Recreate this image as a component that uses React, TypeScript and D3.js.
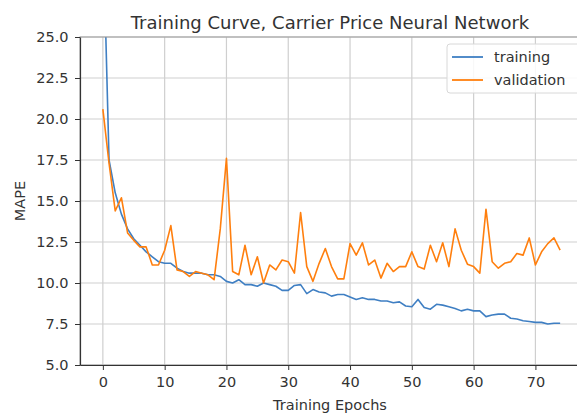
import * as d3 from 'd3';
import { useEffect, useRef } from 'react';

const epochs = d3.range(0, 75);

const trainingMape = [
  32.0, 17.5, 15.5, 14.2, 13.3, 12.7, 12.3, 11.9, 11.6, 11.3,
  11.2, 11.2, 10.9, 10.7, 10.6, 10.6, 10.6, 10.5, 10.5, 10.4,
  10.1, 10.0, 10.2, 9.9, 9.9, 9.8, 10.0, 9.9, 9.8, 9.55,
  9.55, 9.85, 9.9, 9.35, 9.6, 9.45, 9.4, 9.2, 9.3, 9.3,
  9.15, 9.0, 9.1, 9.0, 9.0, 8.9, 8.9, 8.8, 8.85, 8.6,
  8.55, 9.0, 8.5, 8.4, 8.7, 8.65, 8.55, 8.45, 8.3, 8.4,
  8.3, 8.3, 7.95, 8.05, 8.1, 8.1, 7.85, 7.8, 7.7, 7.65,
  7.6, 7.6, 7.5, 7.55, 7.55,
];

const validationMape = [
  20.6, 17.3, 14.4, 15.2, 13.05, 12.6, 12.2, 12.2, 11.1, 11.1,
  12.0, 13.5, 10.8, 10.7, 10.4, 10.7, 10.6, 10.5, 10.2, 13.3,
  17.6, 10.7, 10.5, 12.3, 10.5, 11.6, 10.0, 11.1, 10.8, 11.4,
  11.3, 10.6, 14.3, 11.0, 10.1, 11.2, 12.1, 11.0, 10.25, 10.25,
  12.4, 11.7, 12.45, 11.1, 11.4, 10.3, 11.2, 10.7, 11.0, 11.0,
  11.9, 11.0, 10.85, 12.3, 11.3, 12.45, 11.0, 13.3, 12.0, 11.15,
  11.0, 10.6, 14.5, 11.3, 10.9, 11.2, 11.3, 11.8, 11.7, 12.75,
  11.1, 11.9, 12.4, 12.75, 12.0,
];

const xTicks = [0, 10, 20, 30, 40, 50, 60, 70];
const yTicks = [5, 7.5, 10, 12.5, 15, 17.5, 20, 22.5, 25];

const seriesNames = ['training', 'validation'];
const seriesColors = ['#3f7fc3', '#ff7f0e'];

const width = 577;
const height = 414;
const margin = { top: 37, right: -6, bottom: 49, left: 80 };
const font = '"DejaVu Sans", sans-serif';
const textColor = '#333';

const App = () => {
  const svgRef = useRef<SVGSVGElement | null>(null);

  useEffect(() => {
    if (!svgRef.current) return;
    const svg = d3.select(svgRef.current);
    svg.selectAll('*').remove();

    const innerWidth = width - margin.left - margin.right;
    const innerHeight = height - margin.top - margin.bottom;

    const x = d3.scaleLinear().domain([-3.7, 77.7]).range([0, innerWidth]);
    const y = d3.scaleLinear().domain([5, 25]).range([innerHeight, 0]);

    svg
      .append('defs')
      .append('clipPath')
      .attr('id', 'plot-clip')
      .append('rect')
      .attr('width', innerWidth)
      .attr('height', innerHeight);

    const chart = svg
      .append('g')
      .attr('transform', `translate(${margin.left}, ${margin.top})`);

    // grid
    chart
      .append('g')
      .selectAll('line')
      .data(xTicks)
      .join('line')
      .attr('x1', (d) => x(d))
      .attr('x2', (d) => x(d))
      .attr('y1', 0)
      .attr('y2', innerHeight)
      .attr('stroke', '#cfcfcf')
      .attr('stroke-width', 1.2);

    chart
      .append('g')
      .selectAll('line')
      .data(yTicks)
      .join('line')
      .attr('x1', 0)
      .attr('x2', innerWidth)
      .attr('y1', (d) => y(d))
      .attr('y2', (d) => y(d))
      .attr('stroke', '#cfcfcf')
      .attr('stroke-width', 1.2);

    // lines
    const line = d3
      .line<number>()
      .x((_, i) => x(epochs[i]))
      .y((d) => y(d));

    [trainingMape, validationMape].forEach((values, index) => {
      chart
        .append('path')
        .datum(values)
        .attr('clip-path', 'url(#plot-clip)')
        .attr('fill', 'none')
        .attr('stroke', seriesColors[index])
        .attr('stroke-width', 1.6)
        .attr('stroke-linejoin', 'round')
        .attr('d', line);
    });

    // spines
    chart
      .append('rect')
      .attr('width', innerWidth)
      .attr('height', innerHeight)
      .attr('fill', 'none')
      .attr('stroke', '#9a9a9a')
      .attr('stroke-width', 1);

    const styleAxis = (group) => {
      group.select('.domain').attr('stroke', '#333').attr('stroke-width', 1.2);
      group.selectAll('line').attr('stroke', '#333');
      group
        .selectAll('text')
        .attr('fill', textColor)
        .style('font-size', '14.5px')
        .style('font-family', font);
    };

    chart
      .append('g')
      .attr('transform', `translate(0, ${innerHeight})`)
      .call(
        d3
          .axisBottom(x)
          .tickValues(xTicks)
          .tickSize(5)
          .tickSizeOuter(0)
          .tickPadding(7)
          .tickFormat(d3.format('d')),
      )
      .call(styleAxis);

    chart
      .append('g')
      .call(
        d3
          .axisLeft(y)
          .tickValues(yTicks)
          .tickSize(5)
          .tickSizeOuter(0)
          .tickPadding(6.5)
          .tickFormat(d3.format('.1f')),
      )
      .call(styleAxis);

    // titles
    svg
      .append('text')
      .attr('x', 330)
      .attr('y', 29)
      .attr('text-anchor', 'middle')
      .attr('fill', textColor)
      .style('font-size', '18px')
      .style('font-family', font)
      .text('Training Curve, Carrier Price Neural Network');

    svg
      .append('text')
      .attr('x', 330)
      .attr('y', 410)
      .attr('text-anchor', 'middle')
      .attr('fill', textColor)
      .style('font-size', '14.5px')
      .style('font-family', font)
      .text('Training Epochs');

    svg
      .append('text')
      .attr('transform', `translate(25, ${margin.top + innerHeight / 2}) rotate(-90)`)
      .attr('text-anchor', 'middle')
      .attr('fill', textColor)
      .style('font-size', '14.5px')
      .style('font-family', font)
      .text('MAPE');

    // legend
    const legend = svg.append('g').attr('transform', 'translate(447, 44)');
    legend
      .append('rect')
      .attr('width', 135)
      .attr('height', 49)
      .attr('rx', 3)
      .attr('fill', 'rgba(255,255,255,0.85)')
      .attr('stroke', '#d8d8d8');

    seriesNames.forEach((name, index) => {
      const rowY = 13 + index * 23;
      legend
        .append('line')
        .attr('x1', 5)
        .attr('x2', 36)
        .attr('y1', rowY)
        .attr('y2', rowY)
        .attr('stroke', seriesColors[index])
        .attr('stroke-width', 1.8);
      legend
        .append('text')
        .attr('x', 47)
        .attr('y', rowY + 5)
        .attr('fill', textColor)
        .style('font-size', '14.5px')
        .style('font-family', font)
        .text(name);
    });
  }, []);

  return (
    <div style={{ position: 'absolute', left: 0, top: 0 }}>
      <svg ref={svgRef} width={width} height={height} style={{ display: 'block', background: '#fff' }} />
    </div>
  );
};

export default App;
